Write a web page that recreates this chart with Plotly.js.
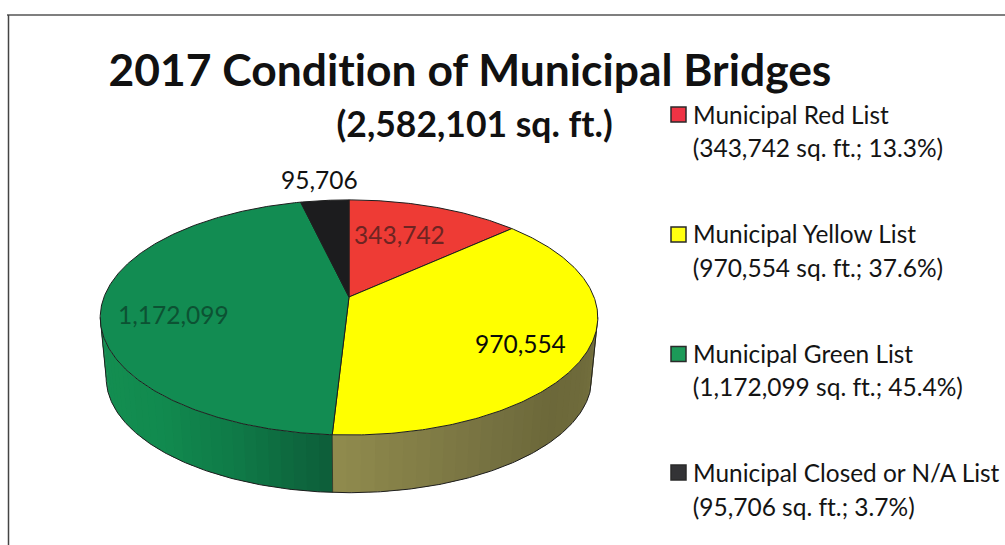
<!DOCTYPE html>
<html>
<head>
<meta charset="utf-8">
<script src="https://cdn.plot.ly/plotly-3.0.1.min.js"></script>
<style>html,body{margin:0;padding:0;background:#fff;overflow:hidden}#chart{width:1005px;height:545px}
#chart svg text{font-variant-ligatures:none;font-feature-settings:"liga" 0}</style>
</head>
<body>
<div id="chart"></div>
<script>
// ---- data ----
var categories = ['Municipal Red List', 'Municipal Yellow List', 'Municipal Green List', 'Municipal Closed or N/A List'];
var values = [343742, 970554, 1172099, 95706];
var valueLabels = ['343,742', '970,554', '1,172,099', '95,706'];
var legendDetails = ['(343,742 sq. ft.; 13.3%)', '(970,554 sq. ft.; 37.6%)', '(1,172,099 sq. ft.; 45.4%)', '(95,706 sq. ft.; 3.7%)'];
var titleText = '2017 Condition of Municipal Bridges';
var subtitleText = '(2,582,101 sq. ft.)';

// ---- styles ----
var topColors = ['#ee3b35', '#ffff00', '#128c52', '#1c1c1e'];
var swatchColors = ['#ee3344', '#ffff10', '#1c9a58', '#333336'];
var labelColors = ['#6e2422', '#0a0a0a', '#0c5233', '#111111'];
var FONT = 'Lato, Carlito, Calibri, sans-serif';
var INK = '#1e1e1e';

// ---- layout of the tilted disc ----
var cx = 349, cy = 297, R = 245, A = 114, C = 0.174, DROP = 61, S = 0.976;
function pt(t, low) {
  var d = 1 + C * Math.cos(t), s = low ? S : 1;
  return [cx + s * R * Math.sin(t) / d, cy + (low ? DROP : 0) - s * A * Math.cos(t) / d];
}
function arc(t0, t1, low) {
  var n = Math.max(2, Math.ceil(Math.abs(t1 - t0) / 0.01)), xs = [], ys = [];
  for (var i = 0; i <= n; i++) { var p = pt(t0 + (t1 - t0) * i / n, low); xs.push(p[0]); ys.push(p[1]); }
  return [xs, ys];
}
var total = values.reduce(function (a, b) { return a + b; }, 0);
var cuts = [0];
values.forEach(function (v, i) { cuts.push(cuts[i] + v / total * 2 * Math.PI); });
var traces = [];

function hex(c) { return [1, 3, 5].map(function (i) { return parseInt(c.substr(i, 2), 16); }); }
function shade(stops, f) {
  var p = f * (stops.length - 1), i = Math.min(Math.floor(p), stops.length - 2), u = p - i;
  var a = hex(stops[i]), b = hex(stops[i + 1]);
  return 'rgb(' + a.map(function (q, k) { return Math.round(q + (b[k] - q) * u); }).join(',') + ')';
}
function wall(t0, t1, stops) {
  var n = 30;
  for (var i = 0; i < n; i++) {
    var a = t0 + (t1 - t0) * i / n, b = t0 + (t1 - t0) * Math.min(1, (i + 1.4) / n);
    var top = arc(a, b, false), bot = arc(b, a, true);
    traces.push({
      x: top[0].concat(bot[0]), y: top[1].concat(bot[1]),
      mode: 'lines', fill: 'toself', fillcolor: shade(stops, i / (n - 1)),
      line: { width: 0 }, hoverinfo: 'skip', showlegend: false
    });
  }
}
var tRight = Math.acos(-C), tLeft = 2 * Math.PI - tRight;
wall(tRight, cuts[2], ['#77733f', '#6f6b3b', '#6c683a', '#757140', '#827d46', '#8f8a4d']);
wall(cuts[2], tLeft, ['#0d5f3a', '#0f7a47', '#118a4f', '#138d50', '#148e52']);

// wall outline
var botArc = arc(tRight, tLeft, true);
var tr = pt(tRight, false), tl = pt(tLeft, false), sepT = pt(cuts[2], false), sepB = pt(cuts[2], true);
traces.push({
  x: [tr[0]].concat(botArc[0], [tl[0]]), y: [tr[1]].concat(botArc[1], [tl[1]]),
  mode: 'lines', line: { color: INK, width: 1 }, hoverinfo: 'skip', showlegend: false
});
traces.push({
  x: [sepT[0], sepB[0]], y: [sepT[1], sepB[1]],
  mode: 'lines', line: { color: '#2a2a1a', width: 0.8 }, hoverinfo: 'skip', showlegend: false
});

// top slices, angles come from the values
values.forEach(function (v, i) {
  var a = arc(cuts[i], cuts[i + 1], false);
  traces.push({
    x: [cx].concat(a[0], [cx]), y: [cy].concat(a[1], [cy]),
    mode: 'lines', fill: 'toself', fillcolor: topColors[i],
    line: { color: INK, width: 1 }, name: categories[i],
    text: valueLabels[i], hoverinfo: 'name+text', showlegend: false
  });
});

// legend swatches
var swatchX = 678.5, swatchY = [114.5, 234.5, 354, 472.5];
traces.push({
  x: swatchY.map(function () { return swatchX; }), y: swatchY,
  mode: 'markers', marker: { symbol: 'square', size: 15, color: swatchColors, line: { color: '#2a2a2a', width: 1.5 } },
  hoverinfo: 'skip', showlegend: false
});

var ann = [];
function label(txt, x, y, size, color, anchor, bold) {
  ann.push({
    text: bold ? '<b>' + txt + '</b>' : txt, x: x, y: y, xref: 'x', yref: 'y',
    xanchor: anchor || 'center', yanchor: 'middle', showarrow: false,
    font: { family: FONT, size: size, color: color }
  });
}
// value labels
var labelPos = [[399, 234], [520, 343], [173, 314], [319, 179]];
valueLabels.forEach(function (t, i) { label(t, labelPos[i][0], labelPos[i][1], 24.5, labelColors[i]); });
// legend text
var detailY = [147, 267, 386, 506], nameY = [114, 233, 353, 472];
categories.forEach(function (c, i) {
  label(c, 691, nameY[i], 24.4, '#141414', 'left');
  label(legendDetails[i], 690.5, detailY[i], 24.5, '#141414', 'left');
});
label(subtitleText, 474, 123, 35.5, '#111111', 'center', true);

var layout = {
  width: 1005, height: 545,
  margin: { l: 0, r: 0, t: 0, b: 0 },
  paper_bgcolor: '#ffffff', plot_bgcolor: '#ffffff',
  showlegend: false,
  title: {
    text: '<b>' + titleText + '</b>', x: 470 / 1005, y: 1 - 70 / 545,
    xanchor: 'center', yanchor: 'middle', xref: 'paper', yref: 'paper',
    font: { family: FONT, size: 44.4, color: '#111111' }
  },
  xaxis: { range: [0, 1005], visible: false, fixedrange: true },
  yaxis: { range: [545, 0], visible: false, fixedrange: true },
  annotations: ann,
  shapes: [
    { type: 'line', xref: 'x', yref: 'y', x0: 7, x1: 1005, y0: 15, y1: 15, line: { color: '#555555', width: 1.5 } },
    { type: 'line', xref: 'x', yref: 'y', x0: 8.5, x1: 8.5, y0: 15, y1: 545, line: { color: '#444444', width: 1.5 } }
  ]
};
Plotly.newPlot('chart', traces, layout, { displayModeBar: false, staticPlot: true });
</script>
</body>
</html>
